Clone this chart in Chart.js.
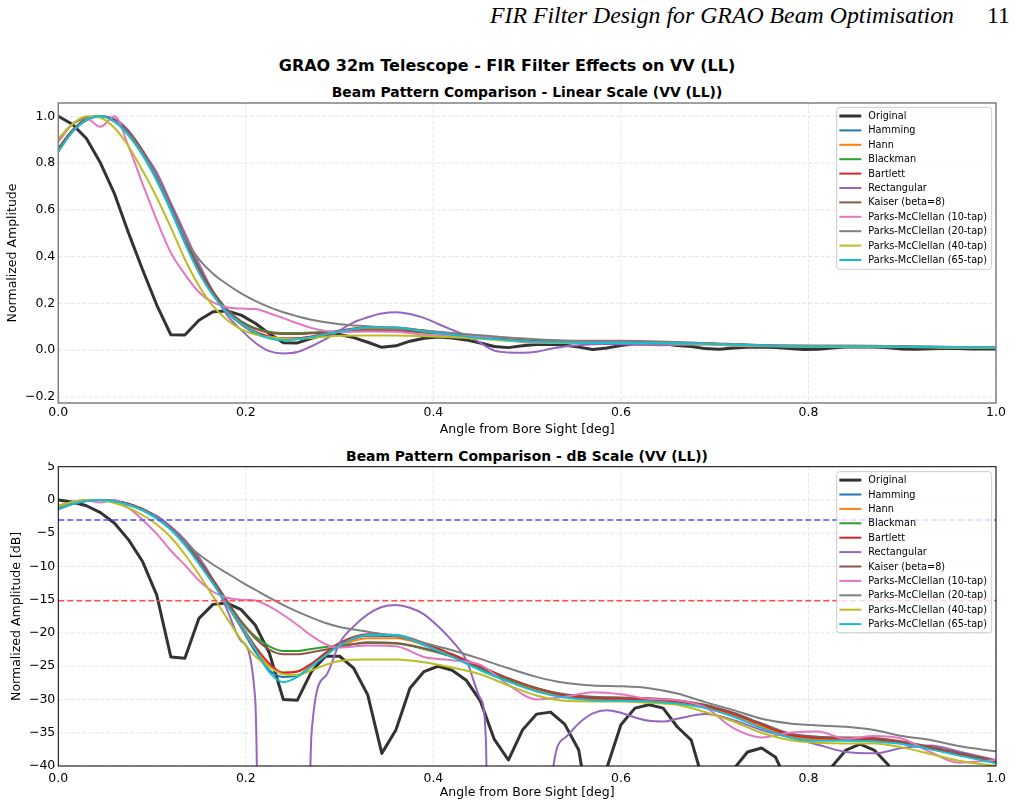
<!DOCTYPE html>
<html>
<head>
<meta charset="utf-8">
<script src="https://cdn.jsdelivr.net/npm/chart.js@4.4.1/dist/chart.umd.min.js"></script>
<style>
html,body{margin:0;padding:0;background:#fff;width:1017px;height:807px;overflow:hidden;position:relative;font-family:'DejaVu Sans',sans-serif;}
.t{position:absolute;white-space:nowrap;transform:translate(-50%,-50%);color:#000;font-weight:bold;line-height:1;}
#hdr{position:absolute;left:490px;top:1px;font-family:'Liberation Serif','Times New Roman',serif;font-style:italic;font-size:23.8px;line-height:1.2;white-space:nowrap;}
#pg{position:absolute;right:7px;top:1px;font-family:'Liberation Serif','Times New Roman',serif;font-size:23.8px;line-height:1.2;}
canvas{position:absolute;left:0;}
</style>
</head>
<body>
<div id="hdr">FIR Filter Design for GRAO Beam Optimisation</div>
<div id="pg">11</div>
<div class="t" style="left:507px;top:66px;font-size:16px;">GRAO 32m Telescope - FIR Filter Effects on VV (LL)</div>
<div class="t" style="left:527px;top:93px;font-size:13.9px;">Beam Pattern Comparison - Linear Scale (VV (LL))</div>
<div class="t" style="left:527px;top:457px;font-size:13.9px;">Beam Pattern Comparison - dB Scale (VV (LL))</div>
<canvas id="c1" width="1017" height="345" style="top:100px"></canvas>
<canvas id="c2" width="1017" height="345" style="top:462px"></canvas>
<script>
// ---------------- DATA ----------------
const seriesLabels = ['Original','Hamming','Hann','Blackman','Bartlett','Rectangular','Kaiser (beta=8)',
  'Parks-McClellan (10-tap)','Parks-McClellan (20-tap)','Parks-McClellan (40-tap)','Parks-McClellan (65-tap)'];

const xTicks = [0, 0.2, 0.4, 0.6, 0.8, 1.0];
const linTicks = [-0.2, 0, 0.2, 0.4, 0.6, 0.8, 1.0];
const dbTicks = [5, 0, -5, -10, -15, -20, -25, -30, -35, -40];
const refLevels = [-3, -15.15];

// Original beam (coarse 0.015 deg sampling)
const origX = [0,0.015,0.03,0.045,0.06,0.075,0.09,0.105,0.12,0.135,0.15,0.165,0.18,0.195,0.21,0.225,0.24,0.255,0.27,0.285,
  0.3,0.315,0.33,0.345,0.36,0.375,0.39,0.405,0.42,0.435,0.45,0.465,0.48,0.495,0.51,0.525,0.54,0.555,0.57,0.585,
  0.6,0.615,0.63,0.645,0.66,0.675,0.69,0.705,0.72,0.735,0.75,0.765,0.78,0.795,0.81,0.825,0.84,0.855,0.87,0.885,
  0.9,0.915,0.93,0.945,0.96,0.975,0.99,1.0];
const origLin = [1.0,0.966,0.905,0.80,0.668,0.50,0.343,0.193,0.066,0.065,0.128,0.164,0.168,0.150,0.115,0.071,0.032,0.031,0.051,0.067,
  0.067,0.054,0.034,0.0124,0.0186,0.0385,0.051,0.056,0.052,0.044,0.031,0.0158,0.011,0.0186,0.0245,0.0254,0.0207,0.0132,0.0032,0.0097,
  0.0204,0.0272,0.0288,0.0272,0.0197,0.0157,0.0068,0.004,0.0094,0.0127,0.0136,0.0116,0.0068,0.0032,0.004,0.0099,0.0132,0.0146,0.0132,0.0102,
  0.0056,0.0045,0.006,0.0079,0.0071,0.0056,0.006,0.005];
const origDb = [0.0,-0.3,-0.87,-1.9,-3.5,-6.0,-9.3,-14.3,-23.6,-23.8,-17.8,-15.7,-15.5,-16.5,-18.8,-23.0,-30.0,-30.1,-25.8,-23.5,
  -23.5,-25.3,-29.3,-38.1,-34.6,-28.3,-25.8,-25.0,-25.6,-27.1,-30.2,-36.0,-39.1,-34.6,-32.2,-31.9,-33.7,-37.6,-50,-40.3,
  -33.8,-31.3,-30.8,-31.3,-34.1,-36.1,-43.4,-48,-40.5,-37.9,-37.3,-38.7,-43.3,-50,-48,-40.1,-37.6,-36.7,-37.6,-39.8,
  -45,-47,-44.4,-42,-43,-45,-44.4,-46];

// Shared angle grid for the filtered beams
const gridX = [0,0.015,0.03,0.045,0.06,0.075,0.09,0.105,0.12,0.135,0.15,0.165,0.18,0.195,0.21,0.225,0.24,0.255,0.27,0.285,0.3,
  0.33,0.36,0.39,0.42,0.45,0.48,0.51,0.54,0.57,0.6,0.63,0.66,0.69,0.72,0.75,0.78,0.81,0.84,0.87,0.9,0.93,0.96,1.0];

const hammingLin = [0.851,0.933,0.983,1.0,0.983,0.933,0.851,0.741,0.610,0.468,0.339,0.240,0.162,0.110,0.072,0.052,0.047,0.048,0.056,0.068,0.081,
  0.095,0.094,0.082,0.068,0.054,0.044,0.037,0.033,0.0316,0.0313,0.0309,0.0299,0.0275,0.0237,0.0195,0.0166,0.0158,0.0157,0.0155,0.0148,0.0135,0.0122,0.0106];
const hammingDb = [-1.4,-0.6,-0.15,0,-0.15,-0.6,-1.4,-2.6,-4.3,-6.6,-9.4,-12.4,-15.8,-19.2,-22.8,-25.6,-26.6,-26.4,-25.0,-23.3,-21.8,
  -20.4,-20.5,-21.7,-23.4,-25.3,-27.1,-28.6,-29.6,-30.0,-30.1,-30.2,-30.5,-31.2,-32.5,-34.2,-35.6,-36.0,-36.1,-36.2,-36.6,-37.4,-38.3,-39.5];

const hannLin = [0.861,0.939,0.989,1.0,0.983,0.933,0.851,0.741,0.610,0.468,0.339,0.240,0.164,0.112,0.076,0.056,0.051,0.051,0.058,0.068,0.079,
  0.091,0.091,0.081,0.068,0.056,0.045,0.0376,0.0335,0.032,0.0316,0.0313,0.0302,0.0279,0.0240,0.0197,0.0168,0.0158,0.0157,0.0155,0.0148,0.0135,0.0122,0.0106];
const hannDb = [-1.3,-0.55,-0.1,0,-0.15,-0.6,-1.4,-2.6,-4.3,-6.6,-9.4,-12.4,-15.7,-19.0,-22.4,-25.0,-25.9,-25.8,-24.8,-23.3,-22.0,
  -20.8,-20.8,-21.8,-23.3,-25.1,-27.0,-28.5,-29.5,-29.9,-30.0,-30.1,-30.4,-31.1,-32.4,-34.1,-35.5,-36.0,-36.1,-36.2,-36.6,-37.4,-38.3,-39.5];

const blackmanLin = [0.861,0.939,0.989,1.0,0.983,0.933,0.851,0.741,0.617,0.479,0.351,0.251,0.174,0.123,0.094,0.079,0.073,0.073,0.076,0.079,0.080,
  0.084,0.083,0.076,0.066,0.054,0.045,0.0385,0.0343,0.0327,0.0324,0.032,0.0309,0.0285,0.0248,0.0207,0.0174,0.0164,0.0162,0.0160,0.0151,0.0138,0.0124,0.0108];
const blackmanDb = [-1.3,-0.55,-0.1,0,-0.15,-0.6,-1.4,-2.6,-4.2,-6.4,-9.1,-12.0,-15.2,-18.2,-20.5,-22.0,-22.7,-22.7,-22.4,-22.1,-21.9,
  -21.5,-21.6,-22.4,-23.6,-25.4,-27.0,-28.3,-29.3,-29.7,-29.8,-29.9,-30.2,-30.9,-32.1,-33.7,-35.2,-35.7,-35.8,-35.9,-36.4,-37.2,-38.1,-39.3];

const bartlettLin = [0.861,0.939,0.989,1.0,0.983,0.933,0.851,0.741,0.617,0.473,0.347,0.245,0.168,0.115,0.079,0.059,0.050,0.051,0.059,0.071,0.084,
  0.098,0.097,0.084,0.069,0.056,0.046,0.0385,0.0339,0.0324,0.032,0.0316,0.0305,0.0282,0.0245,0.0204,0.0172,0.0162,0.0160,0.0158,0.0150,0.0137,0.0123,0.0107];
const bartlettDb = [-1.3,-0.55,-0.1,0,-0.15,-0.6,-1.4,-2.6,-4.2,-6.5,-9.2,-12.2,-15.5,-18.8,-22.0,-24.6,-26.0,-25.8,-24.6,-23.0,-21.5,
  -20.2,-20.3,-21.5,-23.2,-25.0,-26.8,-28.3,-29.4,-29.8,-29.9,-30.0,-30.3,-31.0,-32.2,-33.8,-35.3,-35.8,-35.9,-36.0,-36.5,-37.3,-38.2,-39.4];

const kaiserLin = [0.861,0.939,0.989,1.0,0.983,0.933,0.851,0.741,0.617,0.479,0.351,0.251,0.174,0.122,0.091,0.075,0.069,0.069,0.072,0.075,0.079,
  0.085,0.084,0.077,0.067,0.055,0.045,0.0385,0.0347,0.0331,0.0327,0.0324,0.0313,0.0288,0.0251,0.0209,0.0176,0.0166,0.0164,0.0162,0.0153,0.0140,0.0126,0.0110];
const kaiserDb = [-1.3,-0.55,-0.1,0,-0.15,-0.6,-1.4,-2.6,-4.2,-6.4,-9.1,-12.0,-15.2,-18.3,-20.8,-22.5,-23.2,-23.2,-22.9,-22.5,-22.1,
  -21.4,-21.5,-22.3,-23.5,-25.2,-26.9,-28.3,-29.2,-29.6,-29.7,-29.8,-30.1,-30.8,-32.0,-33.6,-35.1,-35.6,-35.7,-35.8,-36.3,-37.1,-38.0,-39.2];

const pm10Lin = [0.89,0.966,0.99,0.955,1.0,0.87,0.71,0.556,0.417,0.324,0.248,0.204,0.184,0.178,0.176,0.158,0.137,0.115,0.095,0.082,0.078,
  0.080,0.079,0.066,0.062,0.058,0.041,0.0316,0.0331,0.0359,0.0347,0.0320,0.0313,0.0275,0.0193,0.0164,0.0178,0.0182,0.0160,0.0168,0.0160,0.0127,0.0106,0.0111];
const pm10Db = [-1.0,-0.3,-0.1,-0.4,0,-1.2,-3.0,-5.1,-7.6,-9.8,-12.1,-13.8,-14.7,-15.0,-15.1,-16.0,-17.3,-18.8,-20.4,-21.7,-22.2,
  -21.9,-22.0,-23.6,-24.1,-24.8,-27.8,-30.0,-29.6,-28.9,-29.2,-29.9,-30.1,-31.2,-34.3,-35.7,-35.0,-34.8,-35.9,-35.5,-35.9,-37.9,-39.5,-39.1];

const pm20Lin = [0.902,0.966,0.994,1.0,0.977,0.923,0.841,0.741,0.610,0.479,0.389,0.327,0.282,0.243,0.211,0.184,0.162,0.145,0.130,0.119,0.111,
  0.102,0.094,0.084,0.074,0.064,0.054,0.047,0.042,0.040,0.040,0.0385,0.0351,0.0302,0.0263,0.0226,0.0209,0.0202,0.0197,0.0186,0.0168,0.0157,0.0141,0.0129];
const pm20Db = [-0.9,-0.3,-0.05,0,-0.2,-0.7,-1.5,-2.6,-4.3,-6.4,-8.2,-9.7,-11.0,-12.3,-13.5,-14.7,-15.8,-16.8,-17.7,-18.5,-19.1,
  -19.8,-20.5,-21.5,-22.6,-23.9,-25.3,-26.6,-27.5,-27.9,-28.0,-28.3,-29.1,-30.4,-31.6,-32.9,-33.6,-33.9,-34.1,-34.6,-35.5,-36.1,-37.0,-37.8];

const pm40Lin = [0.902,0.966,1.0,0.994,0.950,0.871,0.767,0.653,0.525,0.389,0.275,0.188,0.129,0.089,0.067,0.056,0.049,0.048,0.052,0.058,0.062,
  0.063,0.063,0.060,0.055,0.049,0.040,0.034,0.031,0.0305,0.0305,0.0299,0.0288,0.0254,0.0216,0.0178,0.0157,0.0150,0.0148,0.0148,0.0138,0.0123,0.0110,0.0100];
const pm40Db = [-0.9,-0.3,0,-0.05,-0.45,-1.2,-2.3,-3.7,-5.6,-8.2,-11.2,-14.5,-17.8,-21.0,-23.5,-25.1,-26.2,-26.3,-25.6,-24.8,-24.2,
  -24.0,-24.0,-24.4,-25.2,-26.2,-27.9,-29.4,-30.2,-30.3,-30.3,-30.5,-30.8,-31.9,-33.3,-35.0,-36.1,-36.5,-36.6,-36.6,-37.2,-38.2,-39.2,-40.0];

const pm65Lin = [0.851,0.933,0.983,1.0,0.977,0.917,0.832,0.724,0.596,0.457,0.331,0.234,0.162,0.115,0.076,0.051,0.043,0.047,0.056,0.068,0.080,
  0.097,0.097,0.081,0.066,0.052,0.043,0.036,0.0327,0.0313,0.0309,0.0305,0.0295,0.0272,0.0234,0.0193,0.0164,0.0155,0.0155,0.0153,0.0146,0.0133,0.0120,0.0105];
const pm65Db = [-1.4,-0.6,-0.15,0,-0.2,-0.75,-1.6,-2.8,-4.5,-6.8,-9.6,-12.6,-15.8,-18.8,-22.4,-25.9,-27.4,-26.6,-25.0,-23.4,-21.9,
  -20.3,-20.3,-21.8,-23.6,-25.6,-27.3,-28.8,-29.7,-30.1,-30.2,-30.3,-30.6,-31.3,-32.6,-34.3,-35.7,-36.2,-36.2,-36.3,-36.7,-37.5,-38.4,-39.6];

// Rectangular window (own sampling: has nulls where the beam goes negative)
const rectX = [0,0.015,0.03,0.045,0.06,0.075,0.09,0.105,0.12,0.135,0.15,0.165,0.18,0.195,0.21,0.225,0.24,0.255,0.27,0.285,
  0.3,0.315,0.33,0.345,0.36,0.375,0.39,0.405,0.42,0.435,0.45,0.456,0.465,0.48,0.495,0.51,0.525,0.54,0.555,0.57,
  0.585,0.6,0.615,0.63,0.645,0.66,0.69,0.72,0.75,0.78,0.81,0.84,0.87,0.9,0.93,0.96,1.0];
const rectLin = [0.85,0.933,0.983,1.0,0.989,0.939,0.851,0.76,0.63,0.50,0.37,0.25,0.15,0.087,0.032,-0.004,-0.014,-0.008,0.017,0.047,
  0.084,0.119,0.141,0.157,0.162,0.155,0.138,0.112,0.087,0.063,0.032,0.016,-0.002,-0.010,-0.011,-0.007,0.006,0.016,0.021,0.025,
  0.026,0.025,0.023,0.022,0.0216,0.0226,0.0245,0.022,0.0186,0.0164,0.0145,0.0127,0.0124,0.0137,0.0143,0.0129,0.011];
const rectDb = [-1.4,-0.6,-0.15,0,-0.1,-0.55,-1.4,-2.4,-4.0,-6.0,-8.6,-12.0,-16.5,-21.2,-29.9,-200,-200,-200,-35.2,-26.5,
  -21.5,-19.0,-17.2,-16.1,-15.8,-16.2,-17.2,-19.0,-21.2,-24.0,-29.8,-36.0,-200,-200,-200,-200,-44.0,-35.8,-33.6,-32.1,
  -31.6,-32.0,-32.7,-33.2,-33.3,-32.9,-32.2,-33.1,-34.6,-35.7,-36.8,-37.9,-38.1,-37.3,-36.9,-37.8,-39.1];

// ---------------- STYLE ----------------
const seriesColors = ['#333333','#1f77b4','#ff7f0e','#2ca02c','#d62728','#9467bd','#8c564b','#e377c2','#7f7f7f','#bcbd22','#17becf'];
const seriesWidths = [3,2,2,2,2,2,2,2,2,2,2];
const refColors = ['#4d4dff','#ff4d4d'];

const xsList = [origX, gridX, gridX, gridX, gridX, rectX, gridX, gridX, gridX, gridX, gridX];
const linList = [origLin, hammingLin, hannLin, blackmanLin, bartlettLin, rectLin, kaiserLin, pm10Lin, pm20Lin, pm40Lin, pm65Lin];
const dbList = [origDb, hammingDb, hannDb, blackmanDb, bartlettDb, rectDb, kaiserDb, pm10Db, pm20Db, pm40Db, pm65Db];

function pts(xs, ys){ return xs.map((x,i)=>({x:x, y:ys[i]})); }
const minus = s => s.replace('-', '\u2212');

function makeDatasets(list){
  return list.map((ys,i)=>({
    label: seriesLabels[i],
    data: pts(xsList[i], ys),
    borderColor: seriesColors[i],
    backgroundColor: seriesColors[i],
    borderWidth: seriesWidths[i],
    pointRadius: 0,
    fill: false,
    tension: 0,
    cubicInterpolationMode: i === 0 ? 'default' : 'monotone',
    borderJoinStyle: 'round',
    clip: 0,
    order: 100 - i,
    inLegend: true
  }));
}

Chart.defaults.font.family = "'DejaVu Sans', sans-serif";
Chart.defaults.color = '#000';

const gridPlugin = {
  id: 'mplGrid',
  beforeDatasetsDraw(chart){
    const {ctx, chartArea:a, scales:{x, y}} = chart;
    ctx.save();
    ctx.strokeStyle = '#e0e0e0';
    ctx.lineWidth = 0.8;
    ctx.setLineDash([4, 2]);
    x.ticks.forEach(t => {
      const p = x.getPixelForValue(t.value);
      ctx.beginPath(); ctx.moveTo(p, a.top); ctx.lineTo(p, a.bottom); ctx.stroke();
    });
    y.ticks.forEach(t => {
      const p = y.getPixelForValue(t.value);
      ctx.beginPath(); ctx.moveTo(a.left, p); ctx.lineTo(a.right, p); ctx.stroke();
    });
    ctx.restore();
  }
};

const framePlugin = {
  id: 'mplFrame',
  afterDatasetsDraw(chart, args, opts){
    const {ctx, chartArea:a} = chart;
    ctx.save();
    ctx.strokeStyle = opts.color;
    ctx.lineWidth = opts.width;
    ctx.strokeRect(a.left, a.top, a.right - a.left, a.bottom - a.top);
    ctx.restore();
  }
};

const legendPlugin = {
  id: 'mplLegend',
  afterDatasetsDraw(chart, args, opts){
    const {ctx, chartArea:a} = chart;
    const items = chart.data.datasets.filter(d => d.inLegend);
    const boxW = 155, rowH = 14.4;
    const boxH = opts.boxH;
    const x0 = a.right - 4.3 - boxW, y0 = a.top + opts.top;
    ctx.save();
    ctx.beginPath();
    const r = 3;
    ctx.moveTo(x0 + r, y0);
    ctx.lineTo(x0 + boxW - r, y0); ctx.quadraticCurveTo(x0 + boxW, y0, x0 + boxW, y0 + r);
    ctx.lineTo(x0 + boxW, y0 + boxH - r); ctx.quadraticCurveTo(x0 + boxW, y0 + boxH, x0 + boxW - r, y0 + boxH);
    ctx.lineTo(x0 + r, y0 + boxH); ctx.quadraticCurveTo(x0, y0 + boxH, x0, y0 + boxH - r);
    ctx.lineTo(x0, y0 + r); ctx.quadraticCurveTo(x0, y0, x0 + r, y0);
    ctx.closePath();
    ctx.fillStyle = 'rgba(255,255,255,0.8)';
    ctx.fill();
    ctx.strokeStyle = '#cccccc';
    ctx.lineWidth = 1;
    ctx.stroke();
    ctx.font = "9.72px 'DejaVu Sans', sans-serif";
    ctx.textBaseline = 'middle';
    ctx.textAlign = 'left';
    items.forEach((d, i) => {
      const yy = y0 + opts.first + i * rowH;
      ctx.beginPath();
      ctx.strokeStyle = d.borderColor;
      ctx.lineWidth = d.borderWidth;
      ctx.moveTo(x0 + 2.6, yy); ctx.lineTo(x0 + 24.6, yy);
      ctx.stroke();
      ctx.fillStyle = '#000';
      ctx.fillText(d.label, x0 + 31.6, yy + 0.5);
    });
    ctx.restore();
  }
};

function baseOptions(cfg){
  return {
    responsive: false,
    animation: false,
    events: [],
    layout: { padding: { top: cfg.padTop, right: 21, left: 0, bottom: 0 } },
    plugins: {
      legend: { display: false },
      tooltip: { enabled: false },
      title: { display: false },
      mplFrame: { color: cfg.frameColor, width: cfg.frameWidth },
      mplLegend: { top: cfg.legTop, first: cfg.legFirst, boxH: cfg.legH }
    },
    scales: {
      x: {
        type: 'linear', min: 0, max: 1,
        afterBuildTicks: s => { s.ticks = xTicks.map(v => ({value: v})); },
        afterFit: s => { s.height = cfg.xAxisH; s.paddingLeft = 0; s.paddingRight = 0; },
        grid: { display: false, drawTicks: false },
        border: { display: false },
        ticks: { padding: cfg.xTickPad, font: { size: 12.5 }, color: '#000', maxRotation: 0, callback: v => Number(v).toFixed(1) },
        title: { display: true, text: 'Angle from Bore Sight [deg]', font: { size: 12.5 }, color: '#000', padding: { top: 0, bottom: cfg.xTitlePad } }
      },
      y: {
        type: 'linear', min: cfg.yMin, max: cfg.yMax,
        afterBuildTicks: s => { s.ticks = cfg.yTicks.map(v => ({value: v})); },
        afterFit: s => { s.width = 58.3; s.paddingTop = 0; s.paddingBottom = 0; },
        grid: { display: false, drawTicks: false },
        border: { display: false },
        ticks: { padding: 3, font: { size: 12.5 }, color: '#000', callback: cfg.yFmt },
        title: { display: true, text: cfg.yTitle, font: { size: 12.5 }, color: '#000', padding: { top: cfg.yTitlePad, bottom: 0 } }
      }
    }
  };
}

new Chart(document.getElementById('c1'), {
  type: 'line',
  data: { datasets: makeDatasets(linList) },
  options: baseOptions({
    padTop: 3, xAxisH: 42, xTickPad: 2.5, xTitlePad: 7.5,
    yMin: -0.2257, yMax: 1.0567, yTicks: linTicks,
    yFmt: v => minus(Number(v).toFixed(1)),
    yTitle: 'Normalized Amplitude', yTitlePad: 5.3,
    frameColor: '#808080', frameWidth: 1.5,
    legTop: 4.3, legFirst: 8.7, legH: 162
  }),
  plugins: [gridPlugin, framePlugin, legendPlugin]
});

const dbSets = makeDatasets(dbList);
refLevels.forEach((lv, j) => {
  dbSets.push({
    label: 'ref' + j,
    data: pts([0, 1], [lv, lv]),
    borderColor: refColors[j],
    borderWidth: 1.5,
    borderDash: [6, 3],
    pointRadius: 0,
    fill: false,
    clip: 0,
    order: 0,
    inLegend: false
  });
});

new Chart(document.getElementById('c2'), {
  type: 'line',
  data: { datasets: dbSets },
  options: baseOptions({
    padTop: 4.7, xAxisH: 41, xTickPad: 4.8, xTitlePad: 6.5,
    yMin: -40, yMax: 5, yTicks: dbTicks,
    yFmt: v => minus(String(Math.round(v))),
    yTitle: 'Normalized Amplitude [dB]', yTitlePad: 9.3,
    frameColor: '#000000', frameWidth: 1,
    legTop: 5, legFirst: 8.4, legH: 161
  }),
  plugins: [gridPlugin, framePlugin, legendPlugin]
});
</script>
</body>
</html>
